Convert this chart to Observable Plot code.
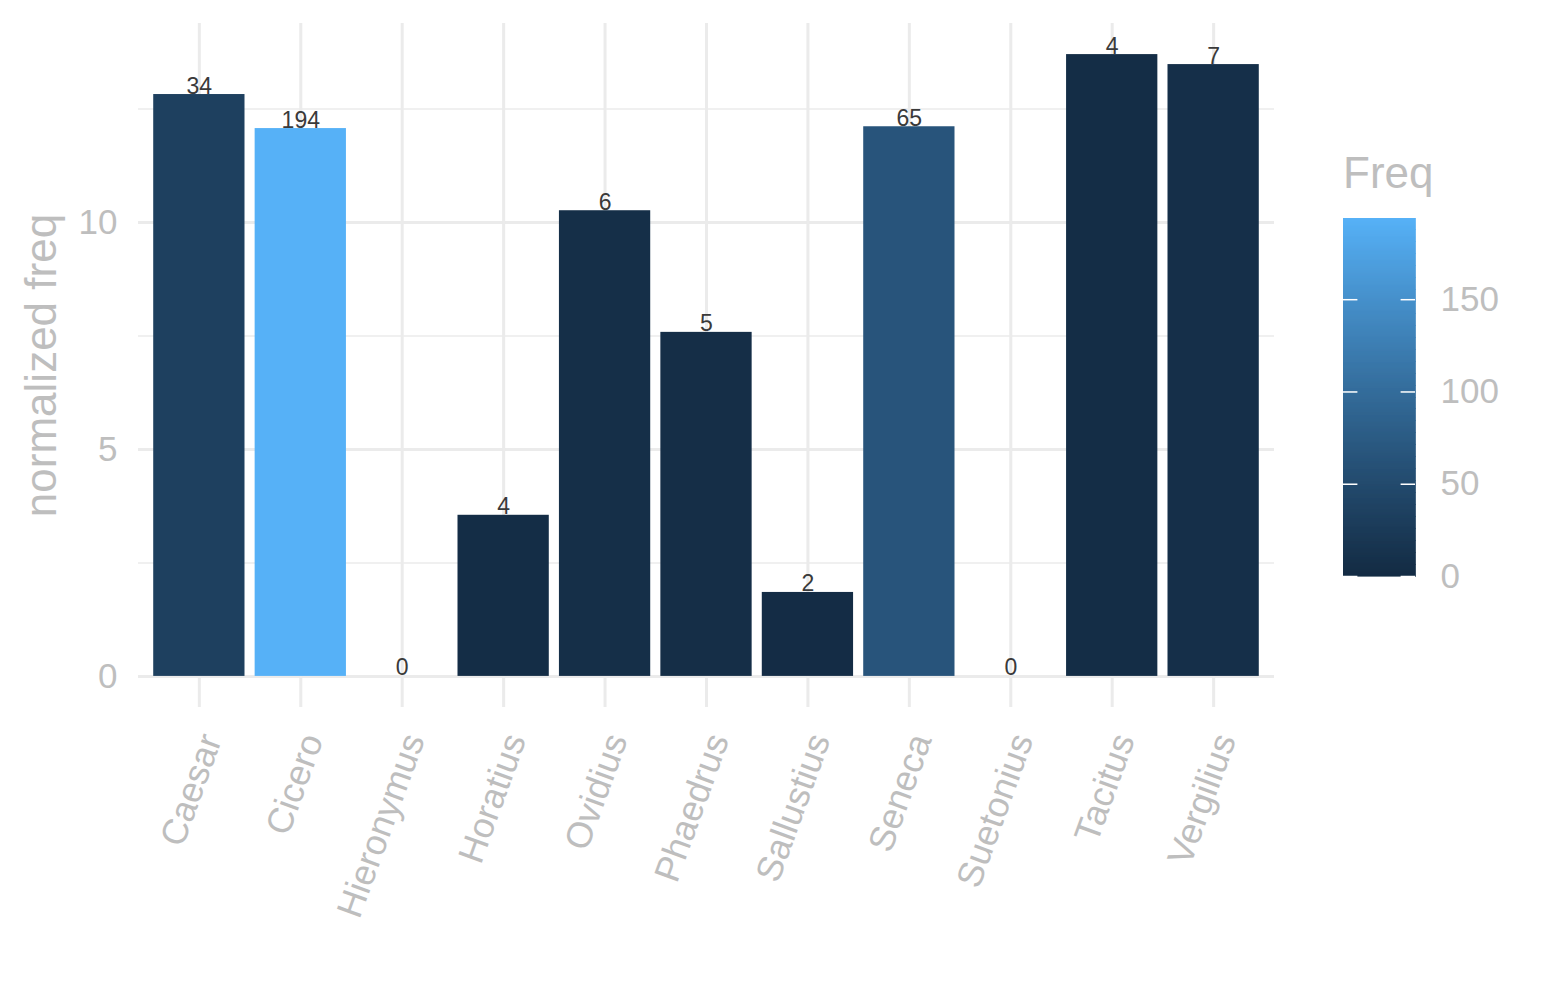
<!DOCTYPE html>
<html>
<head>
<meta charset="utf-8">
<script src="https://cdn.jsdelivr.net/npm/d3@7"></script>
<script src="https://cdn.jsdelivr.net/npm/@observablehq/plot@0.6"></script>
<style>
  html, body { margin: 0; padding: 0; background: #fff; }
  #wrap { position: relative; width: 1545px; height: 1000px; font-family: "Liberation Sans", Arial, sans-serif; }
  #main, #legend { position: absolute; top: 0; }
  #main { left: 0; }
  #legend { left: 1343px; }
  #ltitle { position: absolute; left: 1343px; top: 151px; font-size: 44px; color: #BEBEBE; line-height: 1; }
</style>
</head>
<body>
<div id="wrap">
  <div id="main"></div>
  <div id="legend"></div>
  <div id="ltitle">Freq</div>
</div>
<script>
const authors = ["Caesar","Cicero","Hieronymus","Horatius","Ovidius","Phaedrus","Sallustius","Seneca","Suetonius","Tacitus","Vergilius"];
const normFreq = [12.82, 12.07, 0, 3.55, 10.26, 7.58, 1.85, 12.11, 0, 13.70, 13.48];
const freq = [34, 194, 0, 4, 6, 5, 2, 65, 0, 4, 7];
const yMajor = [0, 5, 10];
const yMinor = [2.5, 7.5, 12.5];
const legendTicks = [0, 50, 100, 150];

const data = authors.map((a, i) => ({author: a, norm: normFreq[i], freq: freq[i]}));
const maxFreq = d3.max(freq);
const yMax = d3.max(normFreq);
const pad = yMax * 0.05;
const colorOpts = {type: "linear", domain: [0, maxFreq], range: ["#132B43", "#56B1F7"], interpolate: "lab"};
const font = "'Liberation Sans', Arial, sans-serif";

const main = Plot.plot({
  width: 1545,
  height: 1000,
  marginLeft: 138,
  marginRight: 271,
  marginTop: 23,
  marginBottom: 293,
  style: {fontFamily: font, background: "#fff"},
  x: {domain: authors, paddingInner: 0.1, paddingOuter: 0.15, round: false},
  y: {domain: [-pad, yMax + pad]},
  color: colorOpts,
  marks: [
    Plot.ruleY(yMinor, {stroke: "#EBEBEB", strokeWidth: 1.5}),
    Plot.ruleY(yMajor, {stroke: "#EBEBEB", strokeWidth: 3}),
    Plot.ruleX(authors, {x: d => d, stroke: "#EBEBEB", strokeWidth: 3}),
    Plot.barY(data, {x: "author", y1: 0, y2: "norm", fill: "freq"}),
    Plot.text(data, {x: "author", y: "norm", text: d => String(d.freq), lineAnchor: "bottom", dy: -1, fontSize: 23, fill: "#3a3a3a"}),
    Plot.axisY(yMajor, {tickSize: 0, tickPadding: 21, fontSize: 35, fill: "#BEBEBE", label: "normalized freq", labelAnchor: "center", labelArrow: "none", labelOffset: 114}),
    Plot.axisX({tickSize: 0, tickPadding: 28, tickRotate: -70, fontSize: 36, fill: "#BEBEBE", label: null, dx: 12})
  ]
});
main.querySelectorAll("[aria-label='y-axis label'] text, [aria-label='y-axis label']").forEach(t => t.setAttribute("font-size", 44));
document.getElementById("main").append(main);

const steps = d3.range(0, maxFreq, 0.5);
const legend = Plot.plot({
  width: 202,
  height: 1000,
  marginLeft: 0,
  marginRight: 130,
  marginTop: 218,
  marginBottom: 424,
  style: {fontFamily: font, background: "transparent"},
  x: {domain: [0, 1], axis: null},
  y: {domain: [0, maxFreq]},
  color: colorOpts,
  marks: [
    Plot.rect(steps, {x1: 0, x2: 1, y1: d => d, y2: d => Math.min(d + 0.5, maxFreq), fill: d => d + 0.25, stroke: d => d + 0.25, strokeWidth: 0.6, shapeRendering: "crispEdges"}),
    Plot.ruleY(legendTicks, {x1: 0, x2: 0.2, stroke: "#fff", strokeWidth: 1.5}),
    Plot.ruleY(legendTicks, {x1: 0.8, x2: 1, stroke: "#fff", strokeWidth: 1.5}),
    Plot.axisY(legendTicks, {anchor: "right", tickSize: 0, tickPadding: 25, fontSize: 35, fill: "#BEBEBE", label: null})
  ]
});
document.getElementById("legend").append(legend);
</script>
</body>
</html>
